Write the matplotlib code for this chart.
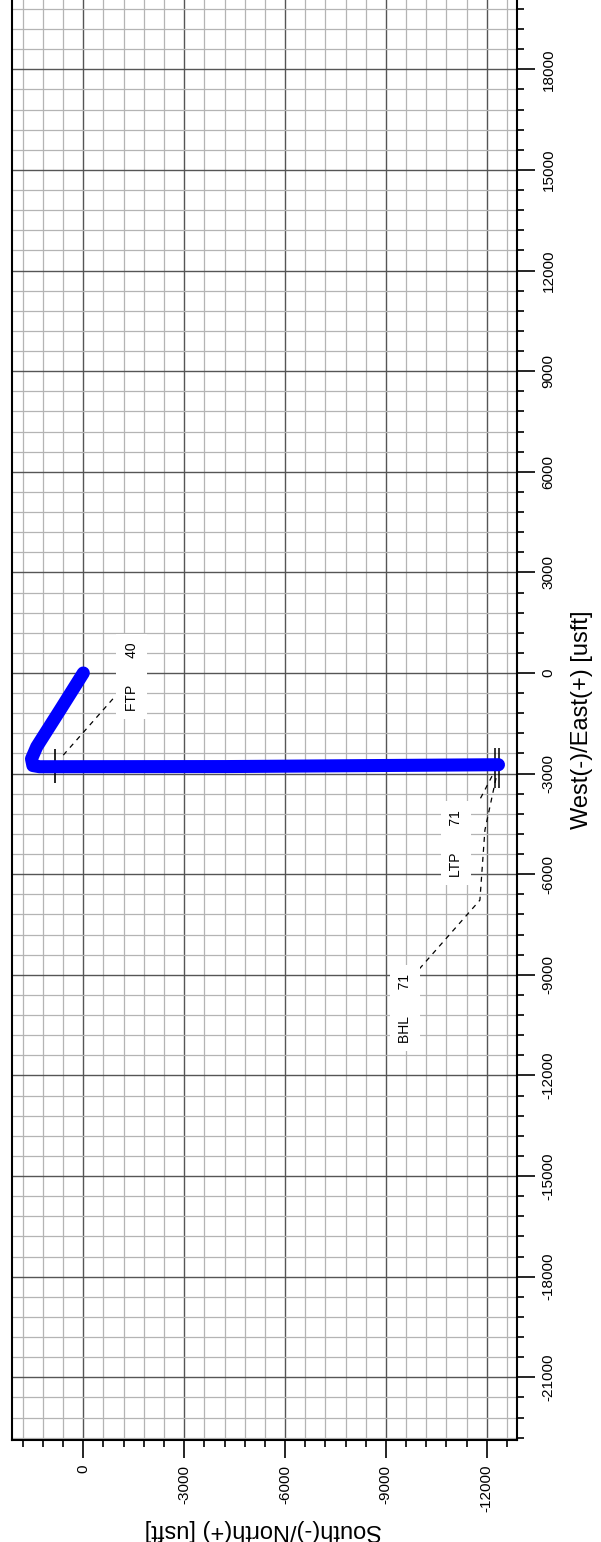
from matplotlib import pyplot as plt
import matplotlib
from matplotlib.ticker import MultipleLocator, FixedLocator

matplotlib.rc('font', family='Liberation Sans', size=11)

# well path: North (+) / South (-) and East (+) / West (-) in usft
north = [0, 693, 1386, 1541, 1500, 1300, -4250, -12350]
east = [0, -1106, -2200, -2560, -2760, -2795, -2790, -2735]

# survey markers (short cross lines on the path)
ftp_mark = (842, -2761)
end_marks = [(-12233, -2821), (-12367, -2821)]

# annotation labels: name, value, label centre (N, E)
labels = ['FTP', 'LTP', 'BHL']
label_vals = ['40', '71', '71']
label_pos = [(-1440, -113), (-11087, -5073), (-9570, -9993)]

# dashed leader lines
ftp_lead_n = [595, -892]
ftp_lead_e = [-2448, -757]
ltp_lead_n = [-12158, -11771]
ltp_lead_e = [-3075, -3821]
bhl_lead_n = [-12277, -11946, -11797, -9833]
bhl_lead_e = [-3134, -4685, -6773, -9009]

n_ticks = [0, -3000, -6000, -9000, -12000]
e_ticks = [-21000, -18000, -15000, -12000, -9000, -6000, -3000,
           0, 3000, 6000, 9000, 12000, 15000, 18000]

fig = plt.figure(figsize=(6.01, 15.42), dpi=100)
ax = fig.add_axes([0.01947, 0.06615, 0.84027, 0.93385])

ax.set_xlim(2130, -12892)
ax.set_ylim(-22870, 20067)

ax.xaxis.set_major_locator(FixedLocator(n_ticks))
ax.xaxis.set_minor_locator(MultipleLocator(600))
ax.yaxis.set_major_locator(FixedLocator(e_ticks))
ax.yaxis.set_minor_locator(MultipleLocator(600))
ax.set_xticklabels([str(v) for v in n_ticks], rotation=90)
ax.set_yticklabels([str(v) for v in e_ticks], rotation=90, va='center')

ax.yaxis.tick_right()
ax.tick_params(which='major', direction='out', length=13, width=1.2, pad=5)
ax.tick_params(which='minor', direction='out', length=5, width=1.2)
ax.tick_params(axis='y', which='both', left=False, right=True)

ax.grid(which='minor', color='#b4b4b4', lw=0.9)
ax.grid(which='major', color='#555555', lw=1.0)
ax.set_axisbelow(True)

ax.spines['top'].set_visible(False)
for s in ['left', 'right', 'bottom']:
    ax.spines[s].set_linewidth(1.5)

# markers under the path
ax.plot([ftp_mark[0]], [ftp_mark[1]], marker='|', ms=25, mew=1.2, color='k', zorder=2)
for mn, me in end_marks:
    ax.plot([mn], [me], marker='|', ms=29, mew=1.1, color='k', zorder=2)

ax.plot(north, east, color='#0000ff', lw=9.4, solid_capstyle='round',
        solid_joinstyle='round', zorder=3)

for ln, le in [(ftp_lead_n, ftp_lead_e), (ltp_lead_n, ltp_lead_e), (bhl_lead_n, bhl_lead_e)]:
    ax.plot(ln, le, color='k', lw=0.9, ls=(0, (4, 4)), zorder=4)

for name, val, (ln, le) in zip(labels, label_vals, label_pos):
    ax.text(ln, le, name + '       ' + val, rotation=90, fontsize=10,
            ha='center', va='center', zorder=5,
            bbox=dict(fc='white', ec='none', pad=6))

fig.text(582 / 601, 1 - 720 / 1542, 'West(-)/East(+) [usft]', rotation=90,
         ha='center', va='center', fontsize=17)
fig.text(263 / 601, 1 - 1530 / 1542, 'South(-)/North(+) [usft]', rotation=180,
         ha='center', va='center', fontsize=17)

plt.savefig('out.png', dpi=100)
